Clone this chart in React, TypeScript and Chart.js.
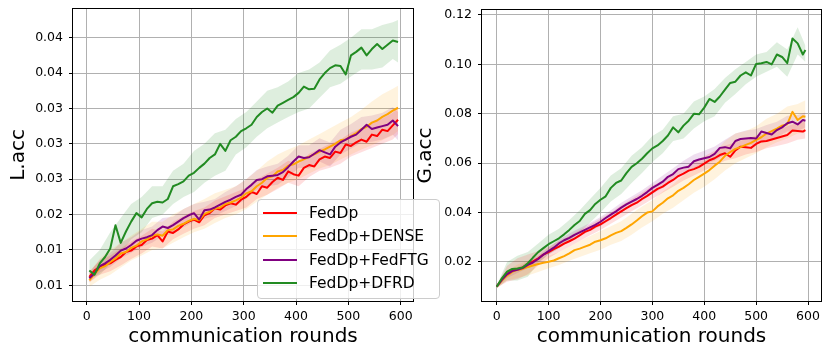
import React, { useEffect, useRef } from "react";
import { Chart, registerables } from "chart.js";

Chart.register(...registerables);

const FONT = "DejaVu Sans";

const SERIES_NAMES = ["FedDp", "FedDp+DENSE", "FedDp+FedFTG", "FedDp+DFRD"];
const SERIES_COLORS = ["#ff0000", "#ffa500", "#800080", "#228b22"];
const BAND_COLORS = [
  "rgba(255,0,0,0.13)",
  "rgba(255,165,0,0.13)",
  "rgba(128,0,128,0.13)",
  "rgba(34,139,34,0.15)",
];

const X_TICKS = [0, 100, 200, 300, 400, 500, 600];
const L_Y_TICKS = [0.01, 0.015, 0.02, 0.025, 0.03, 0.035, 0.04, 0.045];
const L_Y_LABELS = ["0.01", "0.01", "0.02", "0.03", "0.03", "0.03", "0.04", "0.04"];
const G_Y_TICKS = [0.02, 0.04, 0.06, 0.08, 0.1, 0.12];
const G_Y_LABELS = ["0.02", "0.04", "0.06", "0.08", "0.10", "0.12"];

// ---------- Left panel: L.acc ----------
const L_ROUNDS = [
  5, 15, 25, 35, 45, 55, 65, 75, 85, 95, 105, 115, 125, 135, 145, 155, 165, 175, 185, 195,
  205, 215, 225, 235, 245, 255, 265, 275, 285, 295, 305, 315, 325, 335, 345, 355, 365, 375, 385, 395,
  405, 415, 425, 435, 445, 455, 465, 475, 485, 495, 505, 515, 525, 535, 545, 555, 565, 575, 585, 595,
];
const L_FEDDP = [
  0.0112, 0.0121, 0.0126, 0.0129, 0.0131, 0.0136, 0.0140, 0.0147, 0.0149, 0.0155,
  0.0157, 0.0164, 0.0166, 0.0171, 0.0162, 0.0176, 0.0174, 0.0179, 0.0186, 0.0190,
  0.0193, 0.0189, 0.0199, 0.0202, 0.0209, 0.0207, 0.0213, 0.0216, 0.0214, 0.0221,
  0.0225, 0.0232, 0.0229, 0.0240, 0.0238, 0.0246, 0.0252, 0.0249, 0.0261, 0.0257,
  0.0255, 0.0266, 0.0270, 0.0268, 0.0278, 0.0282, 0.0280, 0.0289, 0.0287, 0.0299,
  0.0297, 0.0302, 0.0306, 0.0303, 0.0313, 0.0311, 0.0320, 0.0318, 0.0326, 0.0334,
];
const L_DENSE = [
  0.0107, 0.0116, 0.0124, 0.0127, 0.0133, 0.0138, 0.0145, 0.0147, 0.0153, 0.0156,
  0.0162, 0.0165, 0.0170, 0.0172, 0.0170, 0.0178, 0.0179, 0.0184, 0.0187, 0.0191,
  0.0194, 0.0192, 0.0201, 0.0204, 0.0209, 0.0210, 0.0215, 0.0217, 0.0220, 0.0224,
  0.0230, 0.0233, 0.0240, 0.0245, 0.0252, 0.0254, 0.0261, 0.0263, 0.0269, 0.0271,
  0.0275, 0.0278, 0.0282, 0.0285, 0.0289, 0.0292, 0.0296, 0.0300, 0.0305, 0.0306,
  0.0311, 0.0315, 0.0321, 0.0324, 0.0330, 0.0333, 0.0338, 0.0342, 0.0347, 0.0351,
];
const L_FEDFTG = [
  0.0110, 0.0117, 0.0127, 0.0131, 0.0136, 0.0142, 0.0149, 0.0152, 0.0157, 0.0163,
  0.0166, 0.0168, 0.0171, 0.0178, 0.0183, 0.0181, 0.0185, 0.0190, 0.0195, 0.0199,
  0.0202, 0.0193, 0.0206, 0.0207, 0.0210, 0.0214, 0.0218, 0.0221, 0.0225, 0.0228,
  0.0236, 0.0242, 0.0249, 0.0250, 0.0254, 0.0255, 0.0256, 0.0260, 0.0267, 0.0275,
  0.0282, 0.0280, 0.0281, 0.0286, 0.0291, 0.0288, 0.0285, 0.0296, 0.0302, 0.0306,
  0.0310, 0.0313, 0.0320, 0.0327, 0.0321, 0.0323, 0.0325, 0.0327, 0.0333, 0.0325,
];
const L_DFRD = [
  0.0121, 0.0115, 0.0131, 0.0140, 0.0152, 0.0185, 0.0160, 0.0176, 0.0190, 0.0202,
  0.0196, 0.0208, 0.0216, 0.0218, 0.0217, 0.0222, 0.0240, 0.0243, 0.0247, 0.0255,
  0.0259, 0.0266, 0.0272, 0.0280, 0.0285, 0.0300, 0.0290, 0.0305, 0.0310, 0.0318,
  0.0322, 0.0327, 0.0338, 0.0345, 0.0350, 0.0344, 0.0354, 0.0358, 0.0362, 0.0366,
  0.0372, 0.0381, 0.0377, 0.0378, 0.0391, 0.0400, 0.0407, 0.0411, 0.0410, 0.0398,
  0.0425, 0.0430, 0.0436, 0.0425, 0.0434, 0.0441, 0.0434, 0.0440, 0.0446, 0.0444,
];

const L_BAND_ROUNDS = [
  5, 25, 45, 65, 85, 105, 125, 145, 165, 185, 205, 225, 245, 265, 285, 305,
  325, 345, 365, 385, 405, 425, 445, 465, 485, 505, 525, 545, 565, 585, 595,
];
const L_FEDDP_LO = [
  0.0104, 0.0115, 0.0120, 0.0128, 0.0137, 0.0145, 0.0155, 0.0152, 0.0165, 0.0173, 0.0180,
  0.0185, 0.0195, 0.0200, 0.0205, 0.0210, 0.0222, 0.0228, 0.0236, 0.0245, 0.0240, 0.0253,
  0.0262, 0.0266, 0.0272, 0.0282, 0.0288, 0.0294, 0.0300, 0.0306, 0.0314,
];
const L_FEDDP_HI = [
  0.0120, 0.0135, 0.0142, 0.0152, 0.0162, 0.0170, 0.0180, 0.0176, 0.0190, 0.0198, 0.0205,
  0.0210, 0.0220, 0.0226, 0.0232, 0.0238, 0.0250, 0.0258, 0.0266, 0.0276, 0.0272, 0.0286,
  0.0293, 0.0300, 0.0306, 0.0316, 0.0322, 0.0330, 0.0336, 0.0344, 0.0352,
];
const L_DENSE_LO = [
  0.0098, 0.0108, 0.0115, 0.0125, 0.0135, 0.0142, 0.0150, 0.0152, 0.0160, 0.0168, 0.0175,
  0.0180, 0.0188, 0.0195, 0.0200, 0.0208, 0.0218, 0.0228, 0.0238, 0.0245, 0.0250, 0.0258,
  0.0265, 0.0270, 0.0278, 0.0285, 0.0292, 0.0298, 0.0305, 0.0312, 0.0318,
];
const L_DENSE_HI = [
  0.0118, 0.0138, 0.0150, 0.0160, 0.0170, 0.0180, 0.0190, 0.0190, 0.0200, 0.0208, 0.0215,
  0.0222, 0.0230, 0.0235, 0.0240, 0.0250, 0.0262, 0.0275, 0.0285, 0.0292, 0.0298, 0.0306,
  0.0314, 0.0322, 0.0330, 0.0338, 0.0348, 0.0360, 0.0370, 0.0378, 0.0382,
];
const L_FEDFTG_LO = [
  0.0104, 0.0118, 0.0126, 0.0138, 0.0146, 0.0154, 0.0160, 0.0170, 0.0173, 0.0182, 0.0190,
  0.0194, 0.0198, 0.0205, 0.0212, 0.0222, 0.0235, 0.0240, 0.0242, 0.0252, 0.0266, 0.0265,
  0.0275, 0.0268, 0.0285, 0.0293, 0.0302, 0.0303, 0.0306, 0.0313, 0.0305,
];
const L_FEDFTG_HI = [
  0.0118, 0.0136, 0.0146, 0.0160, 0.0168, 0.0178, 0.0183, 0.0195, 0.0197, 0.0208, 0.0215,
  0.0218, 0.0222, 0.0232, 0.0240, 0.0250, 0.0263, 0.0268, 0.0272, 0.0283, 0.0298, 0.0298,
  0.0308, 0.0302, 0.0320, 0.0328, 0.0338, 0.0340, 0.0344, 0.0352, 0.0345,
];
const L_DFRD_LO = [
  0.0110, 0.0115, 0.0130, 0.0145, 0.0165, 0.0175, 0.0195, 0.0200, 0.0215, 0.0225, 0.0232,
  0.0245, 0.0255, 0.0262, 0.0285, 0.0295, 0.0310, 0.0322, 0.0330, 0.0338, 0.0345, 0.0350,
  0.0365, 0.0380, 0.0385, 0.0395, 0.0405, 0.0405, 0.0408, 0.0420, 0.0415,
];
const L_DFRD_HI = [
  0.0135, 0.0150, 0.0175, 0.0195, 0.0215, 0.0225, 0.0240, 0.0240, 0.0262, 0.0272, 0.0290,
  0.0300, 0.0315, 0.0320, 0.0335, 0.0345, 0.0360, 0.0375, 0.0380, 0.0388, 0.0400, 0.0405,
  0.0415, 0.0432, 0.0440, 0.0450, 0.0462, 0.0462, 0.0468, 0.0472, 0.0475,
];

// ---------- Right panel: G.acc ----------
const G_ROUNDS = [
  0, 10, 20, 30, 40, 50, 60, 70, 80, 90, 100, 110, 120, 130, 140, 150, 160, 170, 180, 190,
  200, 210, 220, 230, 240, 250, 260, 270, 280, 290, 300, 310, 320, 330, 340, 350, 360, 370, 380, 390,
  400, 410, 420, 430, 440, 450, 460, 470, 480, 490, 500, 510, 520, 530, 540, 550, 560, 570, 580, 590, 595,
];
const G_FEDDP = [
  0.0100, 0.0130, 0.0152, 0.0165, 0.0170, 0.0178, 0.0190, 0.0203, 0.0215, 0.0230,
  0.0240, 0.0252, 0.0262, 0.0274, 0.0284, 0.0295, 0.0308, 0.0322, 0.0330, 0.0343,
  0.0352, 0.0365, 0.0378, 0.0392, 0.0405, 0.0418, 0.0430, 0.0440, 0.0455, 0.0468,
  0.0482, 0.0496, 0.0505, 0.0520, 0.0532, 0.0548, 0.0558, 0.0570, 0.0576, 0.0585,
  0.0598, 0.0612, 0.0620, 0.0633, 0.0640, 0.0626, 0.0652, 0.0667, 0.0665, 0.0662,
  0.0678, 0.0688, 0.0690, 0.0696, 0.0702, 0.0708, 0.0714, 0.0732, 0.0730, 0.0728, 0.0734,
];
const G_DENSE = [
  0.0100, 0.0125, 0.0145, 0.0160, 0.0168, 0.0172, 0.0180, 0.0186, 0.0192, 0.0197,
  0.0201, 0.0206, 0.0215, 0.0224, 0.0235, 0.0248, 0.0254, 0.0262, 0.0270, 0.0282,
  0.0288, 0.0296, 0.0308, 0.0318, 0.0325, 0.0338, 0.0352, 0.0368, 0.0385, 0.0400,
  0.0405, 0.0425, 0.0440, 0.0458, 0.0470, 0.0488, 0.0500, 0.0515, 0.0532, 0.0545,
  0.0558, 0.0572, 0.0590, 0.0606, 0.0630, 0.0645, 0.0658, 0.0665, 0.0674, 0.0682,
  0.0694, 0.0705, 0.0720, 0.0730, 0.0740, 0.0752, 0.0758, 0.0808, 0.0775, 0.0790, 0.0788,
];
const G_FEDFTG = [
  0.0100, 0.0128, 0.0150, 0.0163, 0.0168, 0.0175, 0.0188, 0.0198, 0.0212, 0.0230,
  0.0244, 0.0258, 0.0275, 0.0288, 0.0298, 0.0310, 0.0320, 0.0330, 0.0340, 0.0350,
  0.0363, 0.0378, 0.0392, 0.0405, 0.0420, 0.0433, 0.0444, 0.0455, 0.0468, 0.0483,
  0.0500, 0.0512, 0.0525, 0.0545, 0.0556, 0.0576, 0.0582, 0.0586, 0.0608, 0.0615,
  0.0620, 0.0625, 0.0638, 0.0662, 0.0665, 0.0660, 0.0690, 0.0698, 0.0700, 0.0702,
  0.0700, 0.0728, 0.0722, 0.0716, 0.0734, 0.0745, 0.0762, 0.0768, 0.0757, 0.0775, 0.0772,
];
const G_DFRD = [
  0.0100, 0.0134, 0.0161, 0.0172, 0.0174, 0.0178, 0.0195, 0.0218, 0.0240, 0.0256,
  0.0272, 0.0284, 0.0296, 0.0312, 0.0330, 0.0350, 0.0366, 0.0395, 0.0410, 0.0435,
  0.0452, 0.0466, 0.0500, 0.0520, 0.0530, 0.0560, 0.0585, 0.0600, 0.0618, 0.0640,
  0.0660, 0.0672, 0.0690, 0.0712, 0.0745, 0.0725, 0.0752, 0.0772, 0.0800, 0.0798,
  0.0825, 0.0860, 0.0848, 0.0870, 0.0898, 0.0925, 0.0930, 0.0955, 0.0968, 0.0955,
  0.1002, 0.1005, 0.1010, 0.1000, 0.1040, 0.1030, 0.1005, 0.1105, 0.1085, 0.1040, 0.1058,
];

const G_BAND_ROUNDS = [
  0, 20, 40, 60, 80, 100, 120, 140, 160, 180, 200, 220, 240, 260, 280, 300,
  320, 340, 360, 380, 400, 420, 440, 460, 480, 500, 520, 540, 560, 580, 595,
];
const G_FEDDP_LO = [
  0.0095, 0.0120, 0.0130, 0.0150, 0.0185, 0.0215, 0.0240, 0.0262, 0.0285, 0.0308, 0.0330,
  0.0355, 0.0380, 0.0405, 0.0430, 0.0455, 0.0480, 0.0505, 0.0530, 0.0550, 0.0570, 0.0590,
  0.0610, 0.0620, 0.0635, 0.0645, 0.0660, 0.0670, 0.0680, 0.0695, 0.0700,
];
const G_FEDDP_HI = [
  0.0105, 0.0185, 0.0215, 0.0230, 0.0245, 0.0262, 0.0285, 0.0305, 0.0330, 0.0352, 0.0375,
  0.0400, 0.0430, 0.0455, 0.0480, 0.0510, 0.0530, 0.0560, 0.0585, 0.0605, 0.0628, 0.0650,
  0.0672, 0.0685, 0.0698, 0.0712, 0.0722, 0.0735, 0.0750, 0.0765, 0.0768,
];
const G_DENSE_LO = [
  0.0095, 0.0125, 0.0135, 0.0145, 0.0160, 0.0175, 0.0188, 0.0205, 0.0220, 0.0235, 0.0250,
  0.0270, 0.0285, 0.0310, 0.0340, 0.0365, 0.0395, 0.0420, 0.0450, 0.0480, 0.0505, 0.0535,
  0.0570, 0.0600, 0.0620, 0.0640, 0.0665, 0.0685, 0.0700, 0.0720, 0.0725,
];
const G_DENSE_HI = [
  0.0105, 0.0165, 0.0190, 0.0205, 0.0215, 0.0225, 0.0240, 0.0262, 0.0285, 0.0305, 0.0325,
  0.0345, 0.0365, 0.0395, 0.0425, 0.0450, 0.0485, 0.0515, 0.0550, 0.0585, 0.0610, 0.0645,
  0.0690, 0.0720, 0.0730, 0.0750, 0.0780, 0.0800, 0.0830, 0.0840, 0.0855,
];
const G_FEDFTG_LO = [
  0.0095, 0.0135, 0.0155, 0.0175, 0.0198, 0.0230, 0.0260, 0.0283, 0.0305, 0.0325, 0.0345,
  0.0372, 0.0400, 0.0425, 0.0448, 0.0475, 0.0500, 0.0530, 0.0555, 0.0580, 0.0595, 0.0610,
  0.0635, 0.0660, 0.0672, 0.0675, 0.0690, 0.0705, 0.0728, 0.0730, 0.0745,
];
const G_FEDFTG_HI = [
  0.0105, 0.0165, 0.0180, 0.0200, 0.0226, 0.0258, 0.0290, 0.0315, 0.0338, 0.0358, 0.0382,
  0.0410, 0.0440, 0.0465, 0.0490, 0.0520, 0.0550, 0.0580, 0.0610, 0.0635, 0.0650, 0.0668,
  0.0695, 0.0720, 0.0732, 0.0738, 0.0755, 0.0768, 0.0792, 0.0795, 0.0805,
];
const G_DFRD_LO = [
  0.0095, 0.0125, 0.0125, 0.0140, 0.0195, 0.0230, 0.0255, 0.0285, 0.0320, 0.0360, 0.0400,
  0.0445, 0.0475, 0.0520, 0.0560, 0.0605, 0.0640, 0.0690, 0.0700, 0.0740, 0.0770, 0.0790,
  0.0845, 0.0880, 0.0920, 0.0950, 0.0970, 0.0990, 0.0950, 0.1040, 0.1010,
];
const G_DFRD_HI = [
  0.0105, 0.0200, 0.0225, 0.0240, 0.0275, 0.0310, 0.0335, 0.0370, 0.0410, 0.0455, 0.0500,
  0.0550, 0.0580, 0.0630, 0.0665, 0.0710, 0.0735, 0.0790, 0.0800, 0.0850, 0.0870, 0.0900,
  0.0945, 0.0980, 0.1010, 0.1040, 0.1050, 0.1090, 0.1060, 0.1150, 0.1075,
];

type Panel = {
  rounds: number[];
  bandRounds: number[];
  lines: number[][];
  lows: number[][];
  highs: number[][];
  yTicks: number[];
  yLabels: string[];
  yTitle: string;
  xMin: number;
  xMax: number;
  yMin: number;
  yMax: number;
  padding: { left: number; right: number; top: number; bottom: number };
  yWidth: number;
};

const LEFT_PANEL: Panel = {
  rounds: L_ROUNDS,
  bandRounds: L_BAND_ROUNDS,
  lines: [L_FEDDP, L_DENSE, L_FEDFTG, L_DFRD],
  lows: [L_FEDDP_LO, L_DENSE_LO, L_FEDFTG_LO, L_DFRD_LO],
  highs: [L_FEDDP_HI, L_DENSE_HI, L_FEDFTG_HI, L_DFRD_HI],
  yTicks: L_Y_TICKS,
  yLabels: L_Y_LABELS,
  yTitle: "L.acc",
  xMin: -26.2,
  xMax: 623.6,
  yMin: 0.00778,
  yMax: 0.04906,
  padding: { left: 0, right: 418, top: 9, bottom: 0 },
  yWidth: 73,
};

const RIGHT_PANEL: Panel = {
  rounds: G_ROUNDS,
  bandRounds: G_BAND_ROUNDS,
  lines: [G_FEDDP, G_DENSE, G_FEDFTG, G_DFRD],
  lows: [G_FEDDP_LO, G_DENSE_LO, G_FEDFTG_LO, G_DFRD_LO],
  highs: [G_FEDDP_HI, G_DENSE_HI, G_FEDFTG_HI, G_DFRD_HI],
  yTicks: G_Y_TICKS,
  yLabels: G_Y_LABELS,
  yTitle: "G.acc",
  xMin: -28.3,
  xMax: 625,
  yMin: 0.00421,
  yMax: 0.12202,
  padding: { left: 407, right: 10, top: 10, bottom: 0 },
  yWidth: 75,
};

const spinePlugin = {
  id: "spines",
  afterDatasetsDraw(chart: any) {
    const { ctx, chartArea: a } = chart;
    ctx.save();
    ctx.strokeStyle = "#000";
    ctx.lineWidth = 1;
    ctx.strokeRect(
      Math.round(a.left) - 0.5,
      Math.round(a.top) - 0.5,
      Math.round(a.right - a.left) + 1,
      Math.round(a.bottom - a.top) + 1
    );
    ctx.restore();
  },
};

function buildConfig(p: Panel): any {
  const datasets: any[] = [];
  for (let s = 0; s < 4; s++) {
    const hiIndex = datasets.length;
    datasets.push({
      label: SERIES_NAMES[s] + " hi",
      data: p.bandRounds.map((r, i) => ({ x: r, y: p.highs[s][i] })),
      borderWidth: 0,
      borderColor: "rgba(0,0,0,0)",
      backgroundColor: BAND_COLORS[s],
      pointRadius: 0,
      fill: { target: hiIndex + 1 },
      order: 20,
    });
    datasets.push({
      label: SERIES_NAMES[s] + " lo",
      data: p.bandRounds.map((r, i) => ({ x: r, y: p.lows[s][i] })),
      borderWidth: 0,
      borderColor: "rgba(0,0,0,0)",
      pointRadius: 0,
      fill: false,
      order: 20,
    });
  }
  for (let s = 0; s < 4; s++) {
    datasets.push({
      label: SERIES_NAMES[s],
      data: p.rounds.map((r, i) => ({ x: r, y: p.lines[s][i] })),
      borderColor: SERIES_COLORS[s],
      borderWidth: 2,
      pointRadius: 0,
      fill: false,
      tension: 0,
      borderJoinStyle: "round",
      order: 4 - s,
    });
  }
  return {
    type: "line",
    data: { datasets },
    plugins: [spinePlugin],
    options: {
      animation: false,
      responsive: false,
      devicePixelRatio: 1,
      layout: { padding: p.padding },
      plugins: { legend: { display: false }, tooltip: { enabled: false } },
      scales: {
        x: {
          type: "linear",
          min: p.xMin,
          max: p.xMax,
          afterBuildTicks: (sc: any) => {
            sc.ticks = X_TICKS.map((v) => ({ value: v }));
          },
          afterFit: (sc: any) => {
            sc.height = 57;
            sc.paddingLeft = 0;
            sc.paddingRight = 0;
            sc.paddingTop = 0;
            sc.paddingBottom = 0;
          },
          ticks: {
            color: "#000",
            font: { family: FONT, size: 12.5 },
            padding: 4,
            maxRotation: 0,
            autoSkip: false,
            callback: (v: any) => String(v),
          },
          grid: { color: "#b0b0b0", lineWidth: 1, tickColor: "#000", tickLength: 4 },
          border: { display: false },
          title: {
            display: true,
            text: "communication rounds",
            color: "#000",
            font: { family: FONT, size: 20 },
            padding: { top: 0, bottom: 9 },
          },
        },
        y: {
          type: "linear",
          min: p.yMin,
          max: p.yMax,
          afterBuildTicks: (sc: any) => {
            sc.ticks = p.yTicks.map((v) => ({ value: v }));
          },
          afterFit: (sc: any) => {
            sc.width = p.yWidth;
            sc.paddingLeft = 0;
            sc.paddingRight = 0;
            sc.paddingTop = 0;
            sc.paddingBottom = 0;
          },
          ticks: {
            color: "#000",
            font: { family: FONT, size: 12.5 },
            padding: 6,
            autoSkip: false,
            callback: (v: any) => {
              const i = p.yTicks.findIndex((t) => Math.abs(t - v) < 1e-9);
              return i >= 0 ? p.yLabels[i] : "";
            },
          },
          grid: { color: "#b0b0b0", lineWidth: 1, tickColor: "#000", tickLength: 4 },
          border: { display: false },
          title: {
            display: true,
            text: p.yTitle,
            color: "#000",
            font: { family: FONT, size: 20 },
            padding: { top: 7, bottom: 0 },
          },
        },
      },
    },
  };
}

function PanelCanvas({ panel }: { panel: Panel }) {
  const ref = useRef<HTMLCanvasElement | null>(null);
  useEffect(() => {
    if (!ref.current) return;
    const chart = new Chart(ref.current, buildConfig(panel));
    return () => chart.destroy();
  }, [panel]);
  return (
    <canvas
      ref={ref}
      width={831}
      height={358}
      style={{ position: "absolute", left: 0, top: 0, width: 831, height: 358 }}
    />
  );
}

const LEGEND_ROW_CENTERS = [12.5, 36, 59.5, 83];

export default function App() {
  return (
    <div
      style={{
        position: "absolute",
        left: 0,
        top: 0,
        width: 831,
        height: 358,
        background: "#fff",
        overflow: "hidden",
      }}
    >
      <PanelCanvas panel={LEFT_PANEL} />
      <PanelCanvas panel={RIGHT_PANEL} />
      <div
        style={{
          position: "absolute",
          left: 257,
          top: 199,
          width: 183,
          height: 100,
          boxSizing: "border-box",
          border: "1px solid #cccccc",
          borderRadius: 4,
          background: "rgba(255,255,255,0.8)",
        }}
      >
        {SERIES_NAMES.map((name, i) => (
          <div
            key={name}
            style={{ position: "absolute", left: 0, top: LEGEND_ROW_CENTERS[i] - 10, height: 20, width: "100%" }}
          >
            <div
              style={{
                position: "absolute",
                left: 5,
                top: 9,
                width: 34,
                height: 2,
                background: SERIES_COLORS[i],
              }}
            />
            <span
              style={{
                position: "absolute",
                left: 51,
                top: 0,
                lineHeight: "20px",
                fontSize: 15.5,
                fontFamily: FONT,
                color: "#000",
                whiteSpace: "nowrap",
              }}
            >
              {name}
            </span>
          </div>
        ))}
      </div>
    </div>
  );
}
